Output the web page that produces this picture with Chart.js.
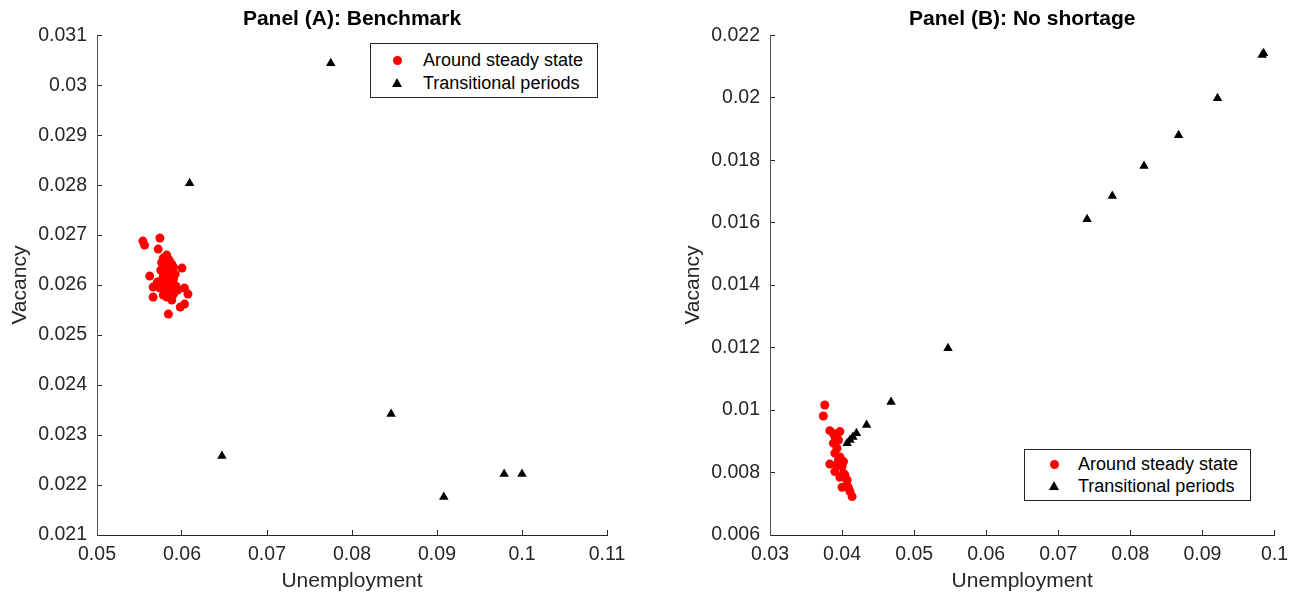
<!DOCTYPE html>
<html>
<head>
<meta charset="utf-8">
<script src="https://cdn.jsdelivr.net/npm/chart.js@4/dist/chart.umd.min.js"></script>
<style>
  body { margin: 0; background: #fff; width: 1301px; height: 595px; overflow: hidden; position: relative; font-family: "Liberation Sans", Arial, sans-serif; }
  .wrap { position: absolute; top: 0; }
  .legend { position: absolute; background: #fff; border: 1px solid #262626; font-size: 18px; color: #000; box-sizing: border-box; }
  .row { position: absolute; left: 0; height: 23px; line-height: 23px; white-space: nowrap; }
  .row span { position: absolute; }
  .dot { width: 9px; height: 9px; border-radius: 50%; background: #f00; top: 7px; }
  .tri { width: 0; height: 0; border-left: 5px solid transparent; border-right: 5px solid transparent; border-bottom: 9px solid #000; top: 6px; }
</style>
</head>
<body>
<div class="wrap" style="left:0"><canvas id="chartA" width="650" height="595"></canvas></div>
<div class="wrap" style="left:650px"><canvas id="chartB" width="651" height="595"></canvas></div>

<div class="legend" style="left:370px;top:43px;width:228px;height:55px">
  <div class="row" style="top:5px"><span class="dot" style="left:22px"></span><span style="left:52px">Around steady state</span></div>
  <div class="row" style="top:28px"><span class="tri" style="left:21px"></span><span style="left:52px">Transitional periods</span></div>
</div>
<div class="legend" style="left:1024px;top:449px;width:227px;height:52px">
  <div class="row" style="top:3px"><span class="dot" style="left:25px"></span><span style="left:53px">Around steady state</span></div>
  <div class="row" style="top:25px"><span class="tri" style="left:24px"></span><span style="left:53px">Transitional periods</span></div>
</div>

<script>
// Panel A: benchmark
const unempA_ss = [0.0554, 0.0556, 0.0574, 0.0572, 0.0582, 0.0578, 0.0576, 0.0585, 0.0588, 0.0580,
                   0.0590, 0.0575, 0.0583, 0.0587, 0.0592, 0.0578, 0.0585, 0.0590, 0.0562, 0.0600,
                   0.0581, 0.0588, 0.0593, 0.0566, 0.0574, 0.0580, 0.0586, 0.0595, 0.0603, 0.0607,
                   0.0566, 0.0578, 0.0582, 0.0590, 0.0598, 0.0603, 0.0584, 0.0588, 0.0571, 0.0577]
const vacA_ss   = [0.02688, 0.02680, 0.02694, 0.02672, 0.02660, 0.02654, 0.02645, 0.02650, 0.02642, 0.02638,
                   0.02636, 0.02630, 0.02628, 0.02625, 0.02622, 0.02618, 0.02615, 0.02612, 0.02618, 0.02634,
                   0.02605, 0.02600, 0.02598, 0.02596, 0.02594, 0.02590, 0.02588, 0.02590, 0.02594, 0.02582,
                   0.02576, 0.02580, 0.02576, 0.02582, 0.02556, 0.02562, 0.02542, 0.02570, 0.02606, 0.02612]
const unempA_tr = [0.0775, 0.0609, 0.0647, 0.0846, 0.0908, 0.0979, 0.1000]
const vacA_tr   = [0.03044, 0.02804, 0.02258, 0.02342, 0.02176, 0.02222, 0.02222]
const xTicksA = [0.05, 0.06, 0.07, 0.08, 0.09, 0.1, 0.11]
const yTicksA = [0.021, 0.022, 0.023, 0.024, 0.025, 0.026, 0.027, 0.028, 0.029, 0.03, 0.031]

// Panel B: no shortage
const unempB_ss = [0.0376, 0.0374, 0.0383, 0.0397, 0.0390, 0.0388, 0.0393, 0.0390, 0.0397, 0.0383,
                   0.0393, 0.0400, 0.0390, 0.0402, 0.0397, 0.0407, 0.0400, 0.0409, 0.0414, 0.0395,
                   0.0402, 0.0404, 0.0407, 0.0411, 0.0395, 0.0388]
const vacB_ss   = [0.01016, 0.00981, 0.00934, 0.00931, 0.00915, 0.00894, 0.00878, 0.00862, 0.00850, 0.00827,
                   0.00824, 0.00819, 0.00803, 0.00797, 0.00785, 0.00776, 0.00753, 0.00750, 0.00723, 0.00840,
                   0.00835, 0.00792, 0.00760, 0.00739, 0.00904, 0.00925]
const unempB_tr = [0.0985, 0.0983, 0.0921, 0.0867, 0.0819, 0.0775, 0.0740, 0.0547, 0.0468, 0.0434,
                   0.0420, 0.0415, 0.0411, 0.0407]
const vacB_tr   = [0.02142, 0.02137, 0.01998, 0.01880, 0.01781, 0.01685, 0.01611, 0.01198, 0.01026, 0.00952,
                   0.00926, 0.00914, 0.00904, 0.00894]
const xTicksB = [0.03, 0.04, 0.05, 0.06, 0.07, 0.08, 0.09, 0.1]
const yTicksB = [0.006, 0.008, 0.01, 0.012, 0.014, 0.016, 0.018, 0.02, 0.022]

const toPts = (xs, ys) => xs.map((x, i) => ({ x: x, y: ys[i] }))
const fmt = v => String(parseFloat(v.toFixed(4)))
const ink = '#262626'
const fontFam = '"Liberation Sans", Arial, sans-serif'

function makeChart(id, title, ss, tr, xTicks, yTicks, pad) {
  const ctx = document.getElementById(id).getContext('2d')
  return new Chart(ctx, {
    type: 'scatter',
    data: {
      datasets: [
        { label: 'Around steady state', data: ss, order: 1, pointStyle: 'circle', pointRadius: 4.5,
          backgroundColor: '#ff0000', borderColor: '#ff0000', borderWidth: 0 },
        { label: 'Transitional periods', data: tr, order: 0, pointStyle: 'triangle', pointRadius: 5.5,
          backgroundColor: '#000', borderColor: '#000', borderWidth: 0 }
      ]
    },
    options: {
      responsive: false,
      animation: false,
      devicePixelRatio: 1,
      layout: { padding: pad },
      plugins: {
        legend: { display: false },
        tooltip: { enabled: false },
        title: {
          display: true, text: title, fullSize: false, color: '#000',
          font: { family: fontFam, size: 21, weight: 'bold' },
          padding: { top: 7, bottom: 3 }
        }
      },
      scales: {
        x: {
          type: 'linear', min: xTicks[0], max: xTicks[xTicks.length - 1],
          afterBuildTicks: s => { s.ticks = xTicks.map(v => ({ value: v })) },
          afterFit: s => { s.height = 60 },
          grid: { drawOnChartArea: false, tickLength: -5, color: ink },
          border: { color: ink, width: 1 },
          ticks: { color: ink, padding: 13, maxRotation: 0, autoSkip: false,
                   font: { family: fontFam, size: 19.5 }, callback: fmt },
          title: { display: true, text: 'Unemployment', color: ink,
                   font: { family: fontFam, size: 21 }, padding: { top: 0, bottom: 1 } }
        },
        y: {
          type: 'linear', min: yTicks[0], max: yTicks[yTicks.length - 1],
          afterBuildTicks: s => { s.ticks = yTicks.map(v => ({ value: v })) },
          afterFit: s => { s.width = 97 },
          grid: { drawOnChartArea: false, tickLength: -5, color: ink },
          border: { color: '#555', width: 1 },
          ticks: { color: ink, padding: 15, autoSkip: false,
                   font: { family: fontFam, size: 19.5 }, callback: fmt },
          title: { display: true, text: 'Vacancy', color: ink,
                   font: { family: fontFam, size: 21 }, padding: { top: 8, bottom: 8 } }
        }
      }
    }
  })
}

makeChart('chartA', 'Panel (A): Benchmark', toPts(unempA_ss, vacA_ss), toPts(unempA_tr, vacA_tr),
          xTicksA, yTicksA, { left: 0, right: 43, top: 0, bottom: 0 })
makeChart('chartB', 'Panel (B): No shortage', toPts(unempB_ss, vacB_ss), toPts(unempB_tr, vacB_tr),
          xTicksB, yTicksB, { left: 23, right: 26, top: 0, bottom: 0 })
</script>
</body>
</html>
